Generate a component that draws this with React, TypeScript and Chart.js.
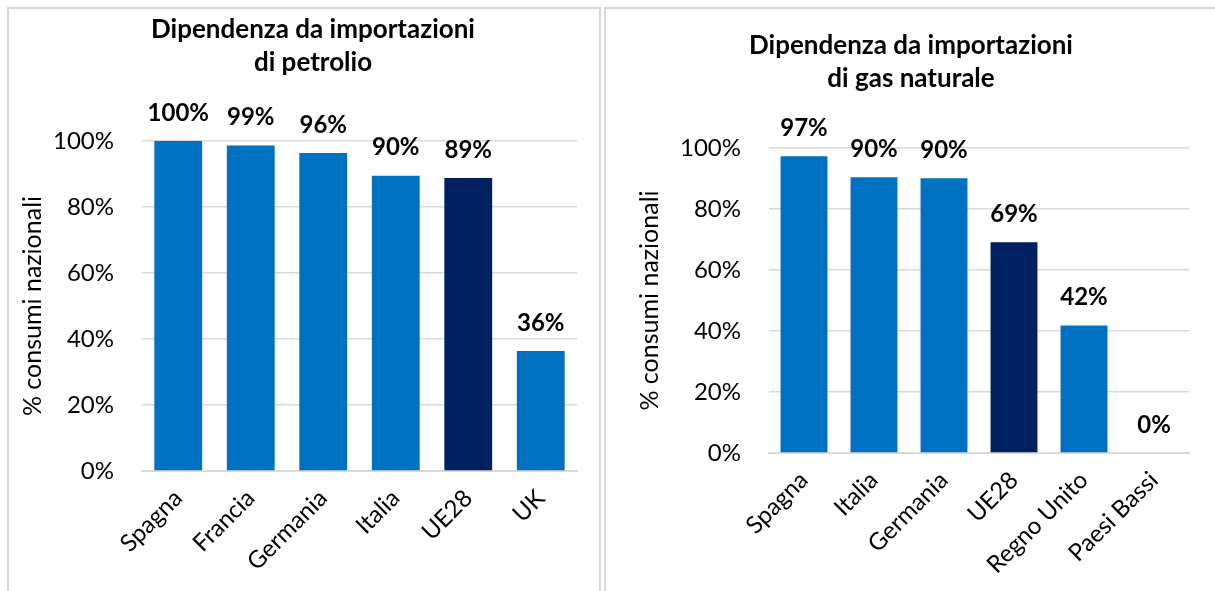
import React, { useEffect, useRef } from "react";
import { Chart, registerables } from "chart.js";

Chart.register(...registerables);

// ---- data ----
const oilCategories = ["Spagna", "Francia", "Germania", "Italia", "UE28", "UK"];
const oilValues = [100, 98.6, 96.4, 89.5, 88.8, 36.4];
const gasCategories = ["Spagna", "Italia", "Germania", "UE28", "Regno Unito", "Paesi Bassi"];
const gasValues = [97.3, 90.4, 90.1, 69.1, 41.8, 0];
const yTickValues = [0, 20, 40, 60, 80, 100];
const oilTitle = ["Dipendenza da importazioni", "di petrolio"];
const gasTitle = ["Dipendenza da importazioni", "di gas naturale"];
const yAxisTitle = "% consumi nazionali";
const highlightCategory = "UE28";

const BLUE = "#0070C0";
const DARK = "#002060";
const GRID = "#D9D9D9";
const FONT = "Lato";

const dataLabelPlugin = {
  id: "dataLabels",
  afterDatasetsDraw(chart: any) {
    const { ctx } = chart;
    const meta = chart.getDatasetMeta(0);
    const ds = chart.data.datasets[0];
    ctx.save();
    ctx.font = `bold 24px ${FONT}`;
    ctx.fillStyle = "#000";
    ctx.textAlign = "center";
    ctx.textBaseline = "middle";
    meta.data.forEach((el: any, i: number) => {
      const v = ds.data[i] as number;
      ctx.fillText(`${Math.round(v)}%`, el.x, el.y - 28);
    });
    ctx.restore();
  },
};

type Cfg = {
  categories: string[];
  values: number[];
  title: string[];
  titleTop: number;
  titleBottom: number;
  leftPad: number;
  yWidth: number;
  xHeight: number;
  rightPad: number;
  yTitlePad: number;
  barPct: number;
};

function makeChart(canvas: HTMLCanvasElement, cfg: Cfg) {
  return new Chart(canvas, {
    type: "bar",
    data: {
      labels: cfg.categories,
      datasets: [
        {
          data: cfg.values,
          backgroundColor: cfg.categories.map((c) => (c === highlightCategory ? DARK : BLUE)),
          borderWidth: 0,
          barPercentage: cfg.barPct,
          categoryPercentage: 1,
        },
      ],
    },
    options: {
      responsive: false,
      animation: false,
      devicePixelRatio: 1,
      layout: { padding: { left: cfg.leftPad, right: cfg.rightPad, top: 0, bottom: 0 } },
      plugins: {
        legend: { display: false },
        tooltip: { enabled: false },
        title: {
          display: true,
          text: cfg.title,
          color: "#000",
          font: { family: FONT, size: 26, weight: "bold", lineHeight: 33 / 26 },
          padding: { top: cfg.titleTop, bottom: cfg.titleBottom },
        },
      },
      scales: {
        x: {
          grid: { display: false },
          border: { display: true, color: GRID, width: 2 },
          ticks: {
            color: "#000",
            font: { family: FONT, size: 24 },
            minRotation: 45,
            maxRotation: 45,
            autoSkip: false,
            padding: 5,
          },
          afterFit: (s: any) => {
            s.height = cfg.xHeight;
          },
        },
        y: {
          min: 0,
          max: 100,
          grid: { color: GRID, lineWidth: 1.5, drawTicks: false },
          border: { display: false },
          afterBuildTicks: (s: any) => {
            s.ticks = yTickValues.map((v) => ({ value: v }));
          },
          ticks: {
            color: "#000",
            font: { family: FONT, size: 24 },
            padding: 28,
            callback: (v: any) => `${v}%`,
          },
          title: {
            display: true,
            text: yAxisTitle,
            color: "#000",
            font: { family: FONT, size: 25 },
            padding: { top: cfg.yTitlePad, bottom: 0 },
          },
          afterFit: (s: any) => {
            s.width = cfg.yWidth;
          },
        },
      },
    },
    plugins: [dataLabelPlugin],
  } as any);
}

export default function App() {
  const leftRef = useRef<HTMLCanvasElement>(null);
  const rightRef = useRef<HTMLCanvasElement>(null);

  useEffect(() => {
    const c1 = makeChart(leftRef.current!, {
      categories: oilCategories,
      values: oilValues,
      title: oilTitle,
      titleTop: 13.5,
      titleBottom: 61.5,
      leftPad: 49,
      yWidth: 93,
      xHeight: 120,
      rightPad: 23,
      yTitlePad: -31,
      barPct: 0.66,
    });
    const c2 = makeChart(rightRef.current!, {
      categories: gasCategories,
      values: gasValues,
      title: gasTitle,
      titleTop: 29.5,
      titleBottom: 52.5,
      leftPad: 28,
      yWidth: 136,
      xHeight: 138,
      rightPad: 26,
      yTitlePad: 2,
      barPct: 0.67,
    });
    return () => {
      c1.destroy();
      c2.destroy();
    };
  }, []);

  return (
    <div
      style={{
        position: "fixed",
        left: 0,
        top: 0,
        width: 1215,
        height: 591,
        overflow: "hidden",
        background: "#fff",
      }}
    >
      <canvas
        ref={leftRef}
        width={600}
        height={591}
        style={{ position: "absolute", left: 0, top: 0, width: 600, height: 591 }}
      />
      <canvas
        ref={rightRef}
        width={610}
        height={591}
        style={{ position: "absolute", left: 605, top: 0, width: 610, height: 591 }}
      />
      <div
        style={{
          position: "absolute",
          left: 7,
          top: 7,
          width: 594,
          height: 620,
          boxSizing: "border-box",
          border: `2px solid ${GRID}`,
          pointerEvents: "none",
        }}
      />
      <div
        style={{
          position: "absolute",
          left: 604,
          top: 7,
          width: 640,
          height: 620,
          boxSizing: "border-box",
          border: `2px solid ${GRID}`,
          pointerEvents: "none",
        }}
      />
    </div>
  );
}
